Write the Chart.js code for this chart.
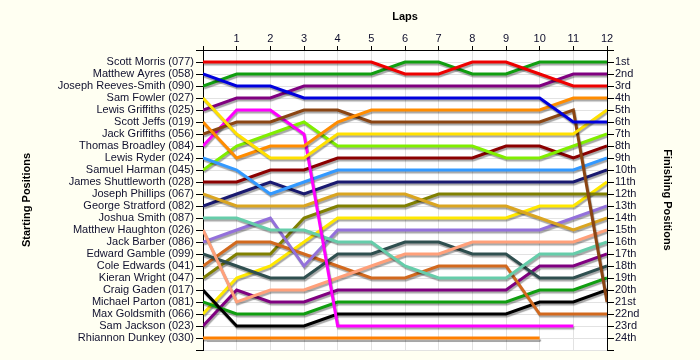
<!DOCTYPE html>
<html>
<head>
<meta charset="utf-8">
<script src="https://cdn.jsdelivr.net/npm/chart.js@4.4.1/dist/chart.umd.min.js"></script>
<style>
    html, body { margin: 0; padding: 0; background: #fffff2; }
    #wrap { width: 700px; height: 360px; }
</style>
</head>
<body>
<div id="wrap"><canvas id="lapChart" width="700" height="360"></canvas></div>
<script>
// Laps 0..12, lap 0 is the grid
const laps = [0, 1, 2, 3, 4, 5, 6, 7, 8, 9, 10, 11, 12];
const lapTicks = ['', '1', '2', '3', '4', '5', '6', '7', '8', '9', '10', '11', '12'];

const drivers = [
    'Scott Morris (077)', 'Matthew Ayres (058)', 'Joseph Reeves-Smith (090)', 'Sam Fowler (027)',
    'Lewis Griffiths (025)', 'Scott Jeffs (019)', 'Jack Griffiths (056)', 'Thomas Broadley (084)',
    'Lewis Ryder (024)', 'Samuel Harman (045)', 'James Shuttleworth (028)', 'Joseph Phillips (067)',
    'George Stratford (082)', 'Joshua Smith (087)', 'Matthew Haughton (026)', 'Jack Barber (086)',
    'Edward Gamble (099)', 'Cole Edwards (041)', 'Kieran Wright (047)', 'Craig Gaden (017)',
    'Michael Parton (081)', 'Max Goldsmith (066)', 'Sam Jackson (023)', 'Rhiannon Dunkey (030)'
];

const finishLabels = [
    '1st', '2nd', '3rd', '4th', '5th', '6th', '7th', '8th', '9th', '10th', '11th', '12th',
    '13th', '14th', '15th', '16th', '17th', '18th', '19th', '20th', '21st', '22nd', '23rd', '24th'
];

// Position of each driver at the end of every lap (null = retired)
const scottMorris      = [1, 1, 1, 1, 1, 1, 2, 2, 1, 1, 2, 3, 3];
const matthewAyres     = [2, 3, 3, 4, 4, 4, 4, 4, 4, 4, 4, 6, 6];
const josephReeves     = [3, 2, 2, 2, 2, 2, 1, 1, 2, 2, 1, 1, 1];
const samFowler        = [4, 7, 9, 9, 7, 7, 7, 7, 7, 7, 7, 7, 5];
const lewisGriffiths   = [5, 4, 4, 3, 3, 3, 3, 3, 3, 3, 3, 2, 2];
const scottJeffs       = [6, 9, 8, 8, 6, 5, 5, 5, 5, 5, 5, 4, 4];
const jackGriffiths    = [7, 6, 6, 5, 5, 6, 6, 6, 6, 6, 6, 5, 21];
const thomasBroadley   = [8, 5, 5, 7, 23, 23, 23, 23, 23, 23, 23, 23, null];
const lewisRyder       = [9, 10, 12, 11, 10, 10, 10, 10, 10, 10, 10, 10, 9];
const samuelHarman     = [10, 8, 7, 6, 8, 8, 8, 8, 8, 9, 9, 8, 7];
const jamesShuttle     = [11, 11, 10, 10, 9, 9, 9, 9, 9, 8, 8, 9, 8];
const josephPhillips   = [12, 13, 13, 13, 12, 12, 12, 13, 13, 13, 14, 15, 14];
const georgeStratford  = [13, 12, 11, 12, 11, 11, 11, 11, 11, 11, 11, 11, 10];
const joshuaSmith      = [14, 14, 15, 15, 16, 16, 18, 19, 19, 19, 17, 17, 16];
const matthewHaughton  = [15, 21, 20, 20, 19, 18, 17, 17, 16, 16, 16, 16, 15];
const jackBarber       = [16, 15, 14, 18, 15, 15, 15, 15, 15, 15, 15, 14, 13];
const edwardGamble     = [17, 18, 19, 19, 17, 17, 16, 16, 17, 17, 19, 19, 18];
const coleEdwards      = [18, 16, 16, 17, 18, 19, 19, 18, 18, 18, 22, 22, 22];
const kieranWright     = [19, 17, 17, 14, 13, 13, 13, 12, 12, 12, 12, 12, 12];
const craigGaden       = [20, 23, 23, 23, 22, 22, 22, 22, 22, 22, 21, 21, 20];
const michaelParton    = [21, 22, 22, 22, 21, 21, 21, 21, 21, 21, 20, 20, 19];
const maxGoldsmith     = [22, 19, 18, 16, 14, 14, 14, 14, 14, 14, 13, 13, 11];
const samJackson       = [23, 20, 21, 21, 20, 20, 20, 20, 20, 20, 18, 18, 17];
const rhiannonDunkey   = [24, 24, 24, 24, 24, 24, 24, 24, 24, 24, 24, null, null];

const series = [
    scottMorris, matthewAyres, josephReeves, samFowler, lewisGriffiths, scottJeffs,
    jackGriffiths, thomasBroadley, lewisRyder, samuelHarman, jamesShuttle, josephPhillips,
    georgeStratford, joshuaSmith, matthewHaughton, jackBarber, edwardGamble, coleEdwards,
    kieranWright, craigGaden, michaelParton, maxGoldsmith, samJackson, rhiannonDunkey
];

const lineColors = [
    '#ee0000', '#0000dd', '#109e10', '#ffe000', '#800080', '#ff8c00',
    '#8b4513', '#ff00ff', '#3399ff', '#80ee00', '#8b0000', '#daa520',
    '#191970', '#66cdaa', '#ffa07a', '#9370db', '#2f4f4f', '#d2691e',
    '#808000', '#000000', '#109e10', '#ffe800', '#800080', '#ff8000'
];

const textColor = '#10102e';
const gridColor = '#e2e2e2';

// cream page, white plot area
const backdrop = {
    id: 'backdrop',
    beforeDraw(chart) {
        const {ctx, chartArea: a} = chart;
        ctx.save();
        ctx.fillStyle = '#fffff2';
        ctx.fillRect(0, 0, chart.width, chart.height);
        ctx.fillStyle = '#ffffff';
        ctx.fillRect(a.left, a.top, a.right - a.left, a.bottom - a.top);
        ctx.restore();
    }
};

// soft drop shadow under the lines
const lineShadow = {
    id: 'lineShadow',
    beforeDatasetsDraw(chart) {
        const ctx = chart.ctx;
        ctx.save();
        ctx.shadowColor = 'rgba(0, 0, 0, 0.35)';
        ctx.shadowBlur = 1;
        ctx.shadowOffsetX = 1;
        ctx.shadowOffsetY = 2;
    },
    afterDatasetsDraw(chart) {
        chart.ctx.restore();
    }
};

const datasets = series.map((pos, i) => ({
    label: drivers[i],
    data: laps.map((lap, k) => ({x: lap, y: pos[k]})),
    borderColor: lineColors[i],
    backgroundColor: lineColors[i],
    borderWidth: 3,
    pointRadius: 0,
    tension: 0,
    fill: false,
    yAxisID: 'y'
}));

const tickFont = {family: 'Liberation Sans, Arial, sans-serif', size: 11};
const titleFont = {family: 'Liberation Sans, Arial, sans-serif', size: 11, weight: 'bold'};

const ctx = document.getElementById('lapChart').getContext('2d');
const lapChart = new Chart(ctx, {
    type: 'line',
    data: { datasets: datasets },
    options: {
        responsive: false,
        animation: false,
        layout: { padding: { bottom: 10 } },
        plugins: {
            legend: { display: false },
            tooltip: { enabled: false }
        },
        scales: {
            x: {
                type: 'linear',
                position: 'top',
                min: 0,
                max: 12,
                afterFit(scale) { scale.height = 50; },
                title: { display: true, text: 'Laps', color: '#000', font: titleFont, padding: { top: 10, bottom: 0 } },
                ticks: {
                    stepSize: 1,
                    autoSkip: false,
                    maxRotation: 0,
                    color: textColor,
                    font: tickFont,
                    padding: 0,
                    callback: (v) => lapTicks[v]
                },
                grid: { color: gridColor, tickColor: '#000', tickLength: 4 },
                border: { color: '#000', width: 1 }
            },
            y: {
                type: 'linear',
                position: 'left',
                reverse: true,
                min: 0,
                max: 25,
                afterFit(scale) { scale.width = 203; },
                title: { display: true, text: 'Starting Positions', color: '#000', font: titleFont, padding: { top: 20, bottom: 0 } },
                ticks: {
                    stepSize: 1,
                    autoSkip: false,
                    color: textColor,
                    font: tickFont,
                    padding: 2,
                    callback: (v) => drivers[v - 1] || ''
                },
                grid: { color: gridColor, tickColor: '#000', tickLength: 7 },
                border: { color: '#000', width: 1 }
            },
            y2: {
                type: 'linear',
                position: 'right',
                reverse: true,
                min: 0,
                max: 25,
                afterFit(scale) { scale.width = 93; },
                title: { display: true, text: 'Finishing Positions', color: '#000', font: titleFont, padding: { top: 26, bottom: 0 } },
                ticks: {
                    stepSize: 1,
                    autoSkip: false,
                    color: textColor,
                    font: tickFont,
                    padding: 1,
                    callback: (v) => finishLabels[v - 1] || ''
                },
                grid: { drawOnChartArea: false, tickColor: '#000', tickLength: 7 },
                border: { color: '#000', width: 1 }
            }
        }
    },
    plugins: [backdrop, lineShadow]
});
</script>
</body>
</html>
